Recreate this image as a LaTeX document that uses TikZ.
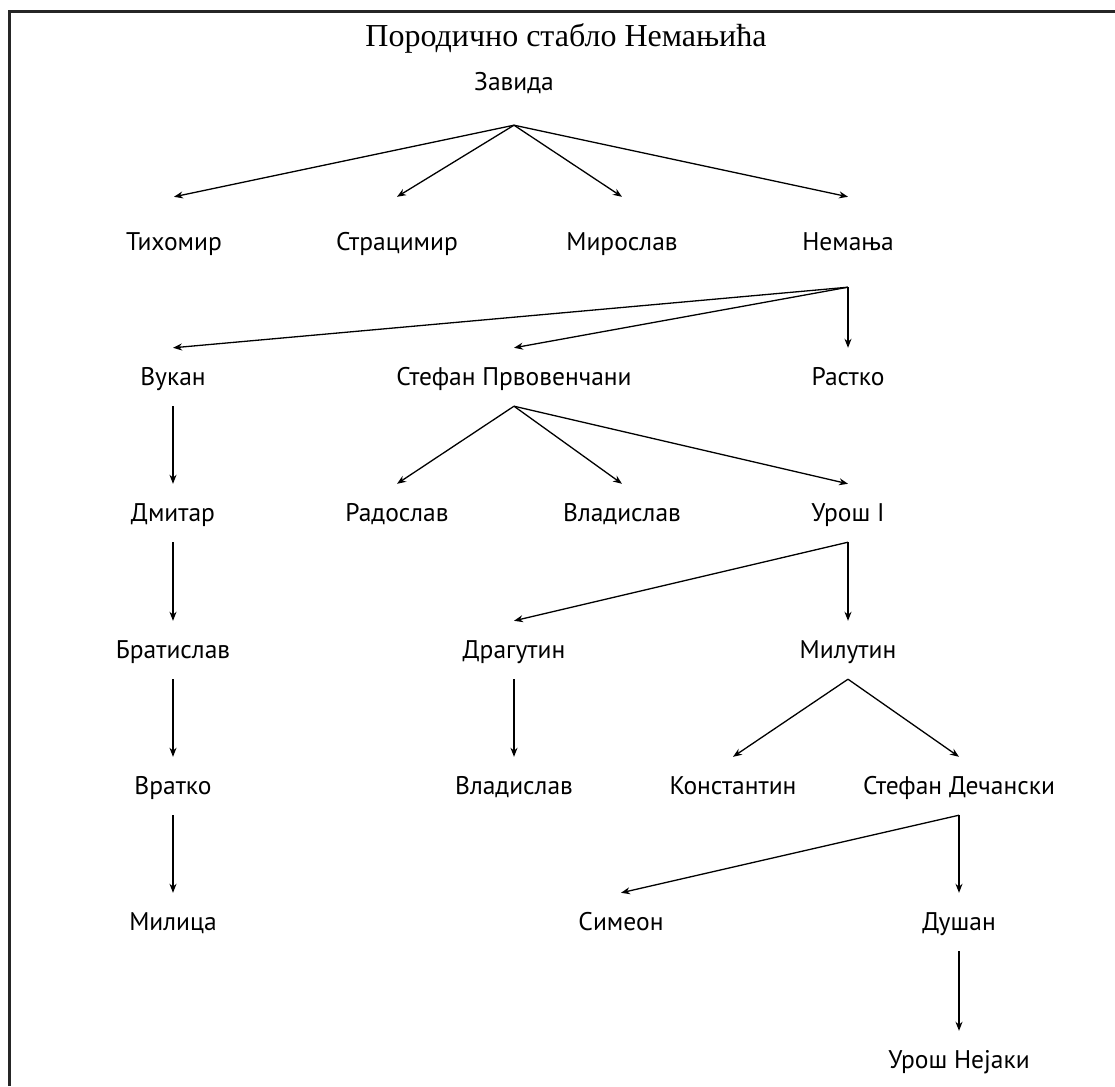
\documentclass[tikz,border=0pt]{standalone}
\usepackage{fontspec}
\setmainfont{Liberation Serif}
\newfontfamily\namefont{PT Sans}
\newfontfamily\titlefont{Liberation Serif}
\usetikzlibrary{arrows.meta}
\begin{document}
\begin{tikzpicture}[x=1pt,y=-1pt,
  person/.style={font=\namefont\fontsize{25.5}{29}\selectfont, text height=22pt, text depth=4.5pt,
    minimum height=58pt, inner sep=0pt, anchor=center},
  tall/.style={minimum height=90pt},
  conn/.style={line width=1.3pt, -{Stealth[length=9pt,width=7pt]}}
]
\useasboundingbox (0,0) rectangle (1115,1086);
\draw[line width=3pt, color=black!85] (9.5,1086) -- (9.5,11.5) -- (1115,11.5);

\node[font=\titlefont\fontsize{32}{36}\selectfont, anchor=base] (title) at (566,47) {Породично стабло Немањића};

\node[person, minimum height=86pt] (zavida) at (514,82) {Завида};

\node[person, tall] (tihomir) at (174,242) {Тихомир};
\node[person, tall] (stracimir) at (397,242) {Страцимир};
\node[person, tall] (miroslav) at (622,242) {Мирослав};
\node[person, tall] (nemanja) at (848,242) {Немања};

\node[person] (vukan) at (173,377) {Вукан};
\node[person] (stefanp) at (514,377) {Стефан Првовенчани};
\node[person] (rastko) at (848,377) {Растко};

\node[person] (dmitar) at (173,513) {Дмитар};
\node[person] (radoslav) at (397,513) {Радослав};
\node[person] (vladislava) at (622,513) {Владислав};
\node[person] (uros) at (848,513) {Урош I};

\node[person] (bratislav) at (173,650) {Братислав};
\node[person] (dragutin) at (514,650) {Драгутин};
\node[person] (milutin) at (848,650) {Милутин};

\node[person] (vratko) at (173,786) {Вратко};
\node[person] (vladislavb) at (514,786) {Владислав};
\node[person] (konstantin) at (733,786) {Константин};
\node[person] (stefand) at (959,786) {Стефан Дечански};

\node[person] (milica) at (173,922) {Милица};
\node[person] (simeon) at (621,922) {Симеон};
\node[person] (dusan) at (959,922) {Душан};

\node[person] (urosn) at (959,1060) {Урош Нејаки};

\foreach \c in {tihomir,stracimir,miroslav,nemanja}
  \draw[conn] (zavida.south) -- (\c.north);
\foreach \c in {vukan,stefanp,rastko}
  \draw[conn] (nemanja.south) -- (\c.north);
\foreach \c in {radoslav,vladislava,uros}
  \draw[conn] (stefanp.south) -- (\c.north);
\draw[conn] (vukan) -- (dmitar);
\draw[conn] (dmitar) -- (bratislav);
\draw[conn] (bratislav) -- (vratko);
\draw[conn] (vratko) -- (milica);
\draw[conn] (uros.south) -- (dragutin.north);
\draw[conn] (uros) -- (milutin);
\draw[conn] (dragutin) -- (vladislavb);
\draw[conn] (milutin.south) -- (konstantin.north);
\draw[conn] (milutin.south) -- (stefand.north);
\draw[conn] (stefand.south) -- (simeon.north);
\draw[conn] (stefand) -- (dusan);
\draw[conn] (dusan) -- (urosn);
\end{tikzpicture}
\end{document}
